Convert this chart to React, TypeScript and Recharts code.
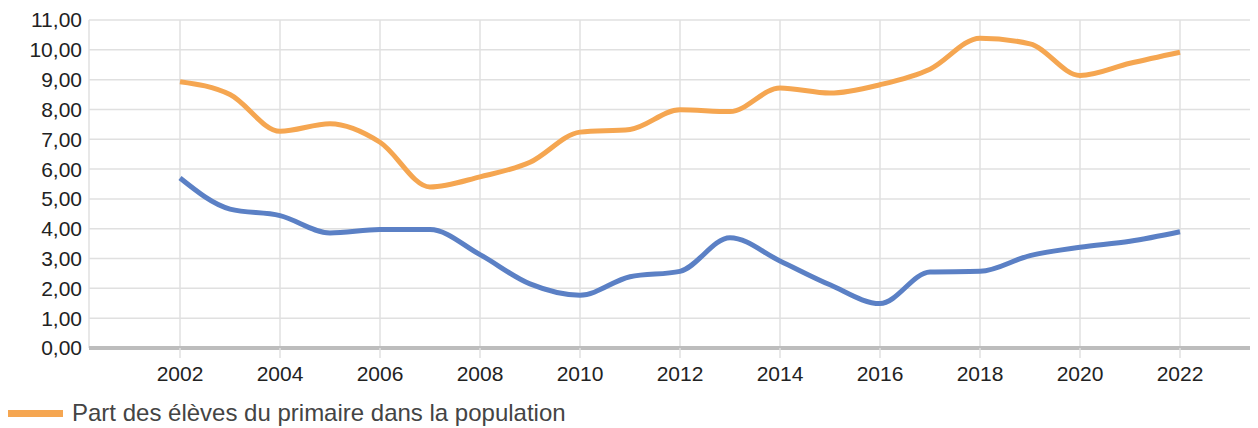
import { LineChart, Line, XAxis, YAxis, CartesianGrid, Legend } from 'recharts';

const years = [
  2002, 2003, 2004, 2005, 2006, 2007, 2008, 2009, 2010, 2011, 2012,
  2013, 2014, 2015, 2016, 2017, 2018, 2019, 2020, 2021, 2022,
];

// orange series, the one named in the legend
const primaryShare = [
  8.93, 8.5, 7.27, 7.52, 6.9, 5.4, 5.74, 6.23, 7.24, 7.33, 7.99,
  7.93, 8.72, 8.55, 8.83, 9.35, 10.39, 10.2, 9.14, 9.55, 9.92,
];

// blue series (no legend entry in the reference)
const otherSeries = [
  5.7, 4.66, 4.44, 3.86, 3.97, 3.97, 3.13, 2.15, 1.77, 2.39, 2.57,
  3.7, 2.92, 2.12, 1.49, 2.55, 2.57, 3.1, 3.38, 3.58, 3.9,
];

const xTicks = [2002, 2004, 2006, 2008, 2010, 2012, 2014, 2016, 2018, 2020, 2022];
const yTicks = [0, 1, 2, 3, 4, 5, 6, 7, 8, 9, 10, 11];

const legendLabel = 'Part des élèves du primaire dans la population';

const ORANGE = '#F5A651';
const BLUE = '#5B80C5';
const FONT = '"Liberation Sans", Arial, sans-serif';

const data = years.map((year, i) => ({
  year,
  primary: primaryShare[i],
  other: otherSeries[i],
}));

const fmt = (v: number) => v.toFixed(2).replace('.', ',');

function LegendContent() {
  return (
    <div style={{ display: 'flex', alignItems: 'center', height: 40, fontFamily: FONT }}>
      <div style={{ width: 55, height: 7, background: ORANGE, marginLeft: 8 }} />
      <span style={{ marginLeft: 9, fontSize: 24, color: '#444' }}>{legendLabel}</span>
    </div>
  );
}

export default function App() {
  return (
    <div style={{ marginTop: -8, marginLeft: -8, width: 1258, height: 428, background: '#fff' }}>
      <LineChart width={1258} height={428} data={data} margin={{ top: 20, right: 0, bottom: 0, left: 0 }}>
        <CartesianGrid stroke="#e0e0e0" strokeWidth={1.5} />
        <XAxis
          dataKey="year"
          type="number"
          domain={[2000.18, 2023.56]}
          ticks={xTicks}
          interval={0}
          allowDataOverflow
          height={40}
          tickSize={10}
          tickMargin={8}
          tickLine={{ stroke: '#e0e0e0', strokeWidth: 1.5 }}
          axisLine={{ stroke: '#bdbdbd', strokeWidth: 4 }}
          tick={{ fill: '#222', fontSize: 21, fontFamily: FONT }}
        />
        <YAxis
          type="number"
          domain={[0, 11]}
          ticks={yTicks}
          interval={0}
          width={89}
          axisLine={false}
          tickLine={false}
          tickSize={0}
          tickMargin={7}
          tickFormatter={fmt}
          tick={{ fill: '#222', fontSize: 21, fontFamily: FONT }}
        />
        <Legend
          verticalAlign="bottom"
          align="left"
          height={40}
          wrapperStyle={{ top: 393, bottom: 'auto', left: 0, height: 40 }}
          content={() => <LegendContent />}
        />
        <Line
          type="monotone"
          dataKey="other"
          stroke={BLUE}
          strokeWidth={5}
          dot={false}
          activeDot={false}
          isAnimationActive={false}
        />
        <Line
          type="monotone"
          dataKey="primary"
          stroke={ORANGE}
          strokeWidth={5}
          dot={false}
          activeDot={false}
          isAnimationActive={false}
        />
      </LineChart>
    </div>
  );
}
